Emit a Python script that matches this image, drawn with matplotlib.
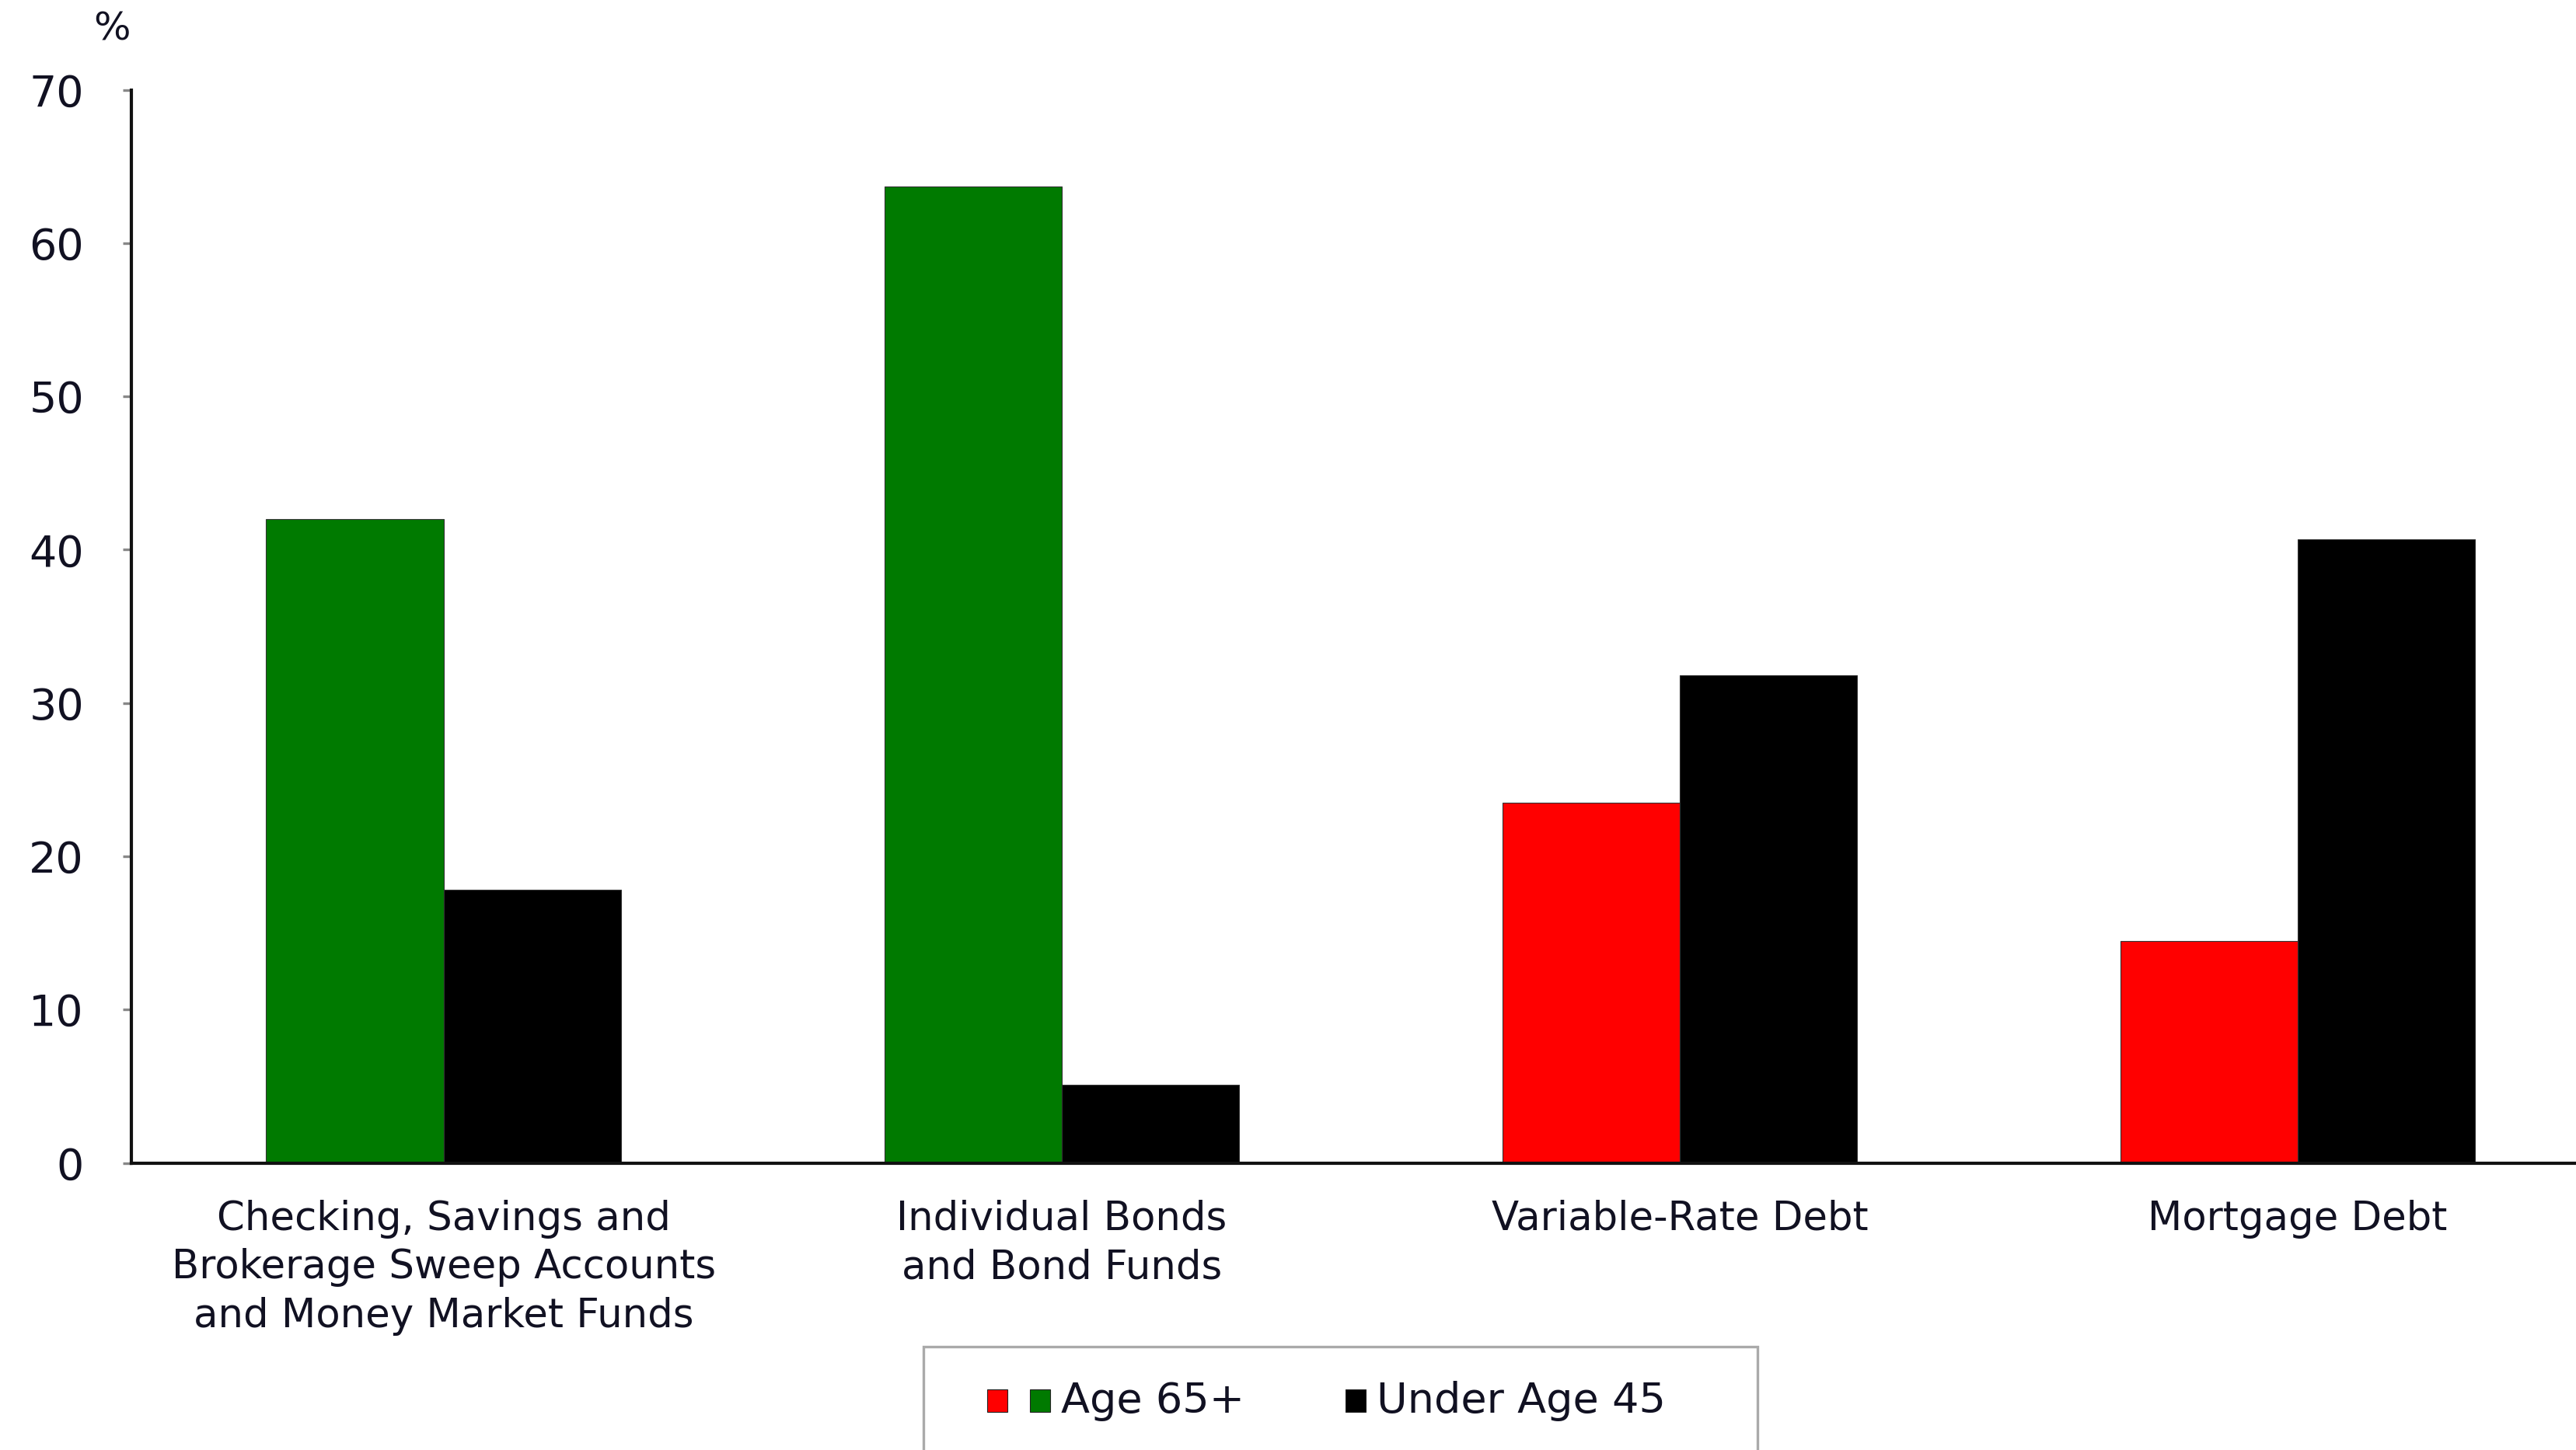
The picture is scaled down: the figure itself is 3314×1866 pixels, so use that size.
import numpy as np
import matplotlib
matplotlib.use("Agg")
import matplotlib.pyplot as plt
from matplotlib.patches import Rectangle

categories = ["Checking, Savings and\nBrokerage Sweep Accounts\nand Money Market Funds",
              "Individual Bonds\nand Bond Funds",
              "Variable-Rate Debt",
              "Mortgage Debt"]
age65 = [42.0, 63.7, 23.5, 14.5]
under45 = [17.8, 5.1, 31.8, 40.7]
age65_colors = ["#007a00", "#007a00", "#ff0000", "#ff0000"]
yticks = [0, 10, 20, 30, 40, 50, 60, 70]

plt.rcParams['font.family'] = ['DejaVu Sans']

fig = plt.figure(figsize=(16.57, 9.33), dpi=200)
ax = fig.add_axes([0.051, 0.198, 0.949, 0.74])

x = np.arange(len(categories))
w = 0.287
ax.bar(x - w/2, age65, width=w, color=age65_colors, edgecolor="#333333", linewidth=0.4)
ax.bar(x + w/2, under45, width=w, color="black", edgecolor="#333333", linewidth=0.4)

ax.set_xlim(-0.505, 3.45)
ax.set_ylim(0, 70)
ax.set_yticks(yticks)
ax.set_yticklabels([str(t) for t in yticks], fontsize=20, color="#111122")
ax.tick_params(axis="y", length=4, width=1.2, color="#888888", pad=18)
ax.set_xticks(x)
ax.set_xticklabels(categories, fontsize=18.5, color="#111122", linespacing=1.32)
ax.tick_params(axis="x", length=0, pad=17)

for s in ["top", "right"]:
    ax.spines[s].set_visible(False)
for s in ["left", "bottom"]:
    ax.spines[s].set_linewidth(1.5)
    ax.spines[s].set_color("#111111")

fig.text(0.0434, 0.980, "%", fontsize=18, color="#111122", ha="center", va="center")

# legend box, runs off the bottom edge
fig.patches.append(Rectangle((0.3585, -0.05), 0.3238, 0.1213, transform=fig.transFigure,
                             facecolor="white", edgecolor="#aaaaaa", linewidth=1.2))
sq_w, sq_h = 0.0078, 0.0155
ly = 0.034
for xl, c in [(0.3833, "#ff0000"), (0.3999, "#007a00"), (0.5224, "black")]:
    fig.patches.append(Rectangle((xl, ly - sq_h/2), sq_w, sq_h, transform=fig.transFigure,
                                 facecolor=c, edgecolor="#222222", linewidth=0.4))
fig.text(0.4120, ly, "Age 65+", fontsize=19.5, ha="left", va="center", color="#111122")
fig.text(0.5345, ly, "Under Age 45", fontsize=19.5, ha="left", va="center", color="#111122")

fig.savefig("out.png", dpi=200)
